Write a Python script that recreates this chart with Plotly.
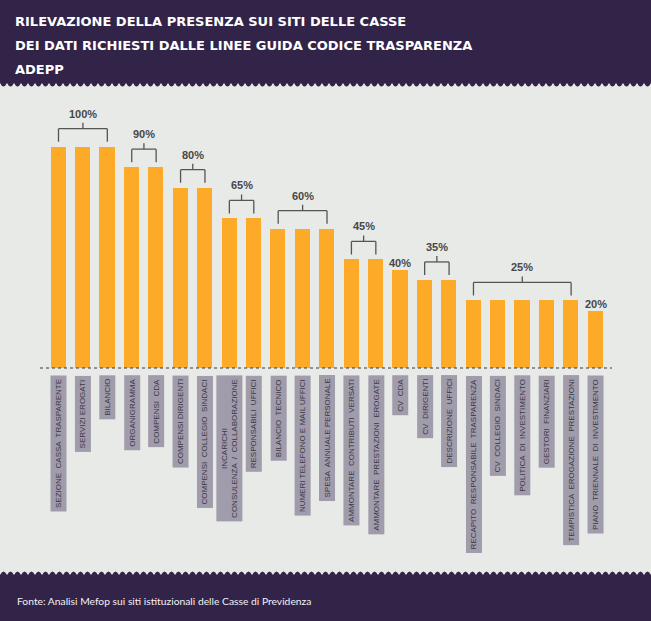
import plotly.graph_objects as go

W, H = 651, 621

# ---------------- data ----------------
categories = [
    "SEZIONE  CASSA  TRASPARENTE", "SERVIZI EROGATI", "BILANCIO",
    "ORGANIGRAMMA", "COMPENSI  CDA",
    "COMPENSI DIRIGENTI", "COMPENSI  COLLEGIO  SINDACI",
    "INCARICHI<br>CONSULENZA  /  COLLABORAZIONE", "RESPONSABILI  UFFICI",
    "BILANCIO  TECNICO", "NUMERI TELEFONO E MAIL UFFICI", "SPESA  ANNUALE PERSONALE",
    "AMMONTARE  CONTRIBUTI  VERSATI", "AMMONTARE  PRESTAZIONI  EROGATE",
    "CV  CDA",
    "CV  DIRIGENTI", "DESCRIZIONE  UFFICI",
    "RECAPITO  RESPONSABILE  TRASPARENZA", "CV  COLLEGIO  SINDACI",
    "POLITICA  DI  INVESTIMENTO", "GESTORI  FINANZIARI",
    "TEMPISTICA  EROGAZIONE  PRESTAZIONI",
    "PIANO  TRIENNALE  DI  INVESTIMENTO",
]
values = [100, 100, 100, 90, 90, 80, 80, 65, 65, 60, 60, 60,
          45, 45, 40, 35, 35, 25, 25, 25, 25, 25, 20]

group_start = [0, 3, 5, 7, 9, 12, 14, 15, 17, 22]
group_end = [2, 4, 6, 8, 11, 13, 14, 16, 21, 22]

title_lines = [
    "RILEVAZIONE DELLA PRESENZA SUI SITI DELLE CASSE",
    "DEI DATI RICHIESTI DALLE LINEE GUIDA CODICE TRASPARENZA",
    "ADEPP",
]
source_text = "Fonte: Analisi Mefop sui siti istituzionali delle Casse di Previdenza"

# ---------------- style ----------------
DARK = "#322348"
PAPER = "#e8eae7"
BAR = "#fcaa27"
BOX = "#a09cab"
BOX_TXT = "#3b3744"
LINE = "#555555"
LABEL = "#474747"

Y_MIN, Y_MAX = -7.95, 125.2
PX_PER_UNIT = 2.05


def fx(px):
    return px / W


def fy(py):
    return (H - py) / H


n = len(values)
xs = list(range(n))

fig = go.Figure()
fig.add_trace(go.Bar(
    x=xs,
    y=[v - Y_MIN for v in values],
    base=Y_MIN,
    width=0.62,
    marker=dict(color=BAR, line=dict(width=0)),
    customdata=values,
    hovertemplate="%{customdata}%<extra></extra>",
))

shapes = []
annotations = []

# header band with scalloped edge
step = 7.0
path = f"M 0 {fy(0)} L 1 {fy(0)} L 1 {fy(83)}"
xcur = W
while xcur > 0:
    x2 = max(xcur - step, 0)
    xm = (xcur + x2) / 2
    path += f" Q {fx(xm)} {fy(90)} {fx(x2)} {fy(83)}"
    xcur = x2
path += " Z"
shapes.append(dict(type="path", path=path, xref="paper", yref="paper",
                   fillcolor=DARK, line=dict(width=0), layer="below"))

# footer band with scalloped edge
path = f"M 0 {fy(H)} L 0 {fy(575)}"
xcur = 0
while xcur < W:
    x2 = min(xcur + step, W)
    xm = (xcur + x2) / 2
    path += f" Q {fx(xm)} {fy(568)} {fx(x2)} {fy(575)}"
    xcur = x2
path += f" L 1 {fy(H)} Z"
shapes.append(dict(type="path", path=path, xref="paper", yref="paper",
                   fillcolor=DARK, line=dict(width=0), layer="below"))

# dotted baseline
shapes.append(dict(type="line", xref="paper", yref="paper",
                   x0=fx(40), x1=fx(612), y0=fy(368), y1=fy(368),
                   line=dict(color="#3a3a3a", width=1.2, dash="dot"), layer="above"))

# brackets and percentage labels
u = 1.0 / PX_PER_UNIT
lab_font = dict(family="Liberation Sans", size=11, color=LABEL, weight="bold")
for s, e in zip(group_start, group_end):
    top = values[s]
    label = f"{values[s]}%"
    if s == e:
        annotations.append(dict(x=s, y=top + 7 * u, xref="x", yref="y", text=label,
                                showarrow=False, yanchor="middle", font=lab_font))
        continue
    yl = top + 18 * u
    yleg = top + 5 * u
    ytick = yl + 6 * u
    lw = dict(color=LINE, width=1.3)
    shapes.append(dict(type="line", xref="x", yref="y", x0=s, x1=e, y0=yl, y1=yl, line=lw))
    shapes.append(dict(type="line", xref="x", yref="y", x0=s, x1=s, y0=yl, y1=yleg, line=lw))
    shapes.append(dict(type="line", xref="x", yref="y", x0=e, x1=e, y0=yl, y1=yleg, line=lw))
    xm = (s + e) / 2
    shapes.append(dict(type="line", xref="x", yref="y", x0=xm, x1=xm, y0=yl, y1=ytick, line=lw))
    annotations.append(dict(x=xm, y=yl + 15 * u, xref="x", yref="y", text=label,
                            showarrow=False, yanchor="middle", font=lab_font))

# category label boxes
for i, c in enumerate(categories):
    annotations.append(dict(
        x=i, y=fy(375), xref="x", yref="paper", text=c, showarrow=False,
        textangle=-90, xanchor="center", yanchor="top", align="center",
        bgcolor=BOX, borderpad=3,
        font=dict(family="Liberation Sans", size=8, color=BOX_TXT),
    ))

# title
for t, yc in zip(title_lines, [21.5, 45.5, 69.5]):
    annotations.append(dict(x=fx(13), y=fy(yc), xref="paper", yref="paper", text=t,
                            showarrow=False, xanchor="left", yanchor="middle",
                            font=dict(family="DejaVu Sans", size=13, color="white", weight="bold")))

# source
annotations.append(dict(x=fx(15), y=fy(600.5), xref="paper", yref="paper", text=source_text,
                        showarrow=False, xanchor="left", yanchor="middle",
                        font=dict(family="Lato", size=10.3, color="#f2f0f4")))

left = 58.5 - 0.5 * 24.41
right = 58.5 + 22.5 * 24.41
fig.update_layout(
    width=W, height=H,
    margin=dict(l=0, r=0, t=0, b=0),
    paper_bgcolor=PAPER, plot_bgcolor="rgba(0,0,0,0)",
    showlegend=False,
    xaxis=dict(domain=[fx(left), fx(right)], range=[-0.5, n - 0.5],
               showgrid=False, zeroline=False, showticklabels=False, ticks="",
               showline=False, fixedrange=True),
    yaxis=dict(domain=[fy(368), fy(95)], range=[Y_MIN, Y_MAX],
               showgrid=False, zeroline=False, showticklabels=False, ticks="",
               showline=False, fixedrange=True),
    shapes=shapes,
    annotations=annotations,
    bargap=0,
)

fig.write_html("out.html", config=dict(displayModeBar=False),
               post_script="document.body.style.margin='0';document.body.style.overflow='hidden';")
